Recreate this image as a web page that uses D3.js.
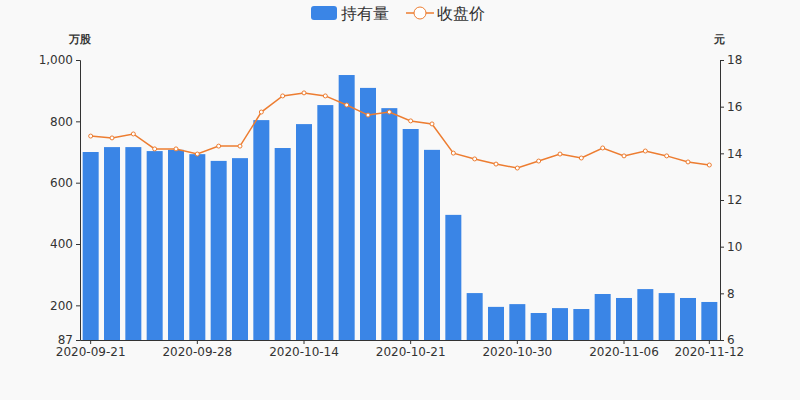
<!DOCTYPE html><html><head><meta charset="utf-8"><script src="https://cdn.jsdelivr.net/npm/d3@7"></script>
<style>body{margin:0;background:#f9f9f9}text{font-family:"DejaVu Sans",sans-serif}</style></head><body><svg id="c" width="800" height="400"></svg><script>
const dates=["2020-09-21","2020-09-22","2020-09-23","2020-09-24","2020-09-25","2020-09-28","2020-09-29","2020-09-30","2020-10-12","2020-10-13","2020-10-14","2020-10-15","2020-10-16","2020-10-19","2020-10-20","2020-10-21","2020-10-22","2020-10-23","2020-10-27","2020-10-29","2020-10-30","2020-11-02","2020-11-03","2020-11-04","2020-11-05","2020-11-06","2020-11-09","2020-11-10","2020-11-11","2020-11-12"];
const holdings=[700,716,716,703,707,693,671,680,804,713,791,853,951,909,843,775,707,495,240,195,204,175,191,188,237,224,253,240,224,211];
const prices=[14.74,14.66,14.83,14.19,14.19,13.97,14.31,14.31,15.77,16.46,16.59,16.46,16.07,15.64,15.77,15.39,15.26,14.01,13.76,13.54,13.37,13.67,13.97,13.8,14.23,13.89,14.1,13.89,13.63,13.5];
const leftTicks=[87,200,400,600,800,1000];
const rightTicks=[6,8,10,12,14,16,18];
const labelIdx=[0,5,10,15,20,25,29];
const svg=d3.select("#c"),L=80,R=720,T=60,B=340;
const x=d3.scaleBand().domain(dates).range([L,R]).paddingInner(0.25).paddingOuter(0.125);
const y=d3.scaleLinear().domain([87,1000]).range([B,T]);
const y2=d3.scaleLinear().domain([6,18]).range([B,T]);
svg.append("g").selectAll("rect").data(holdings).join("rect").attr("x",(d,i)=>x(dates[i])).attr("width",x.bandwidth()).attr("y",d=>y(d)).attr("height",d=>B-y(d)).attr("fill","#3a85e6");
const gl=svg.append("g").attr("transform",`translate(${L},0)`).call(d3.axisLeft(y).tickValues(leftTicks).tickFormat(d3.format(",")).tickSize(4));
const gr=svg.append("g").attr("transform",`translate(${R},0)`).call(d3.axisRight(y2).tickValues(rightTicks).tickSize(4));
const gx=svg.append("g").attr("transform",`translate(0,${B})`).call(d3.axisBottom(x).tickValues(labelIdx.map(i=>dates[i])).tickSize(4).tickSizeOuter(0));
[gl,gr,gx].forEach(g=>{g.selectAll("path,line").attr("stroke","#333");g.selectAll("text").attr("fill","#333").style("font-size","12px")});
const line=d3.line().x((d,i)=>x(dates[i])+x.bandwidth()/2).y(d=>y2(d));
svg.append("path").datum(prices).attr("d",line).attr("fill","none").attr("stroke","#ed7d31").attr("stroke-width",1.5);
svg.append("g").selectAll("circle").data(prices).join("circle").attr("cx",(d,i)=>x(dates[i])+x.bandwidth()/2).attr("cy",d=>y2(d)).attr("r",2).attr("fill","#fff").attr("stroke","#ed7d31");
svg.append("text").attr("x",80).attr("y",43).attr("text-anchor","middle").style("font-size","11px").style("font-weight","bold").attr("fill","#333").text("万股");
svg.append("text").attr("x",719).attr("y",43).attr("text-anchor","middle").style("font-size","11px").style("font-weight","bold").attr("fill","#333").text("元");
const lg=svg.append("g");
lg.append("rect").attr("x",311).attr("y",6).attr("width",26).attr("height",14).attr("rx",3).attr("fill","#3a85e6");
lg.append("text").attr("x",341).attr("y",19).style("font-size","16px").attr("fill","#333").text("持有量");
lg.append("line").attr("x1",406).attr("x2",434).attr("y1",13).attr("y2",13).attr("stroke","#ed7d31").attr("stroke-width",1.5);
lg.append("circle").attr("cx",420).attr("cy",13).attr("r",6).attr("fill","#fff").attr("stroke","#ed7d31");
lg.append("text").attr("x",437).attr("y",19).style("font-size","16px").attr("fill","#333").text("收盘价");
</script></body></html>
